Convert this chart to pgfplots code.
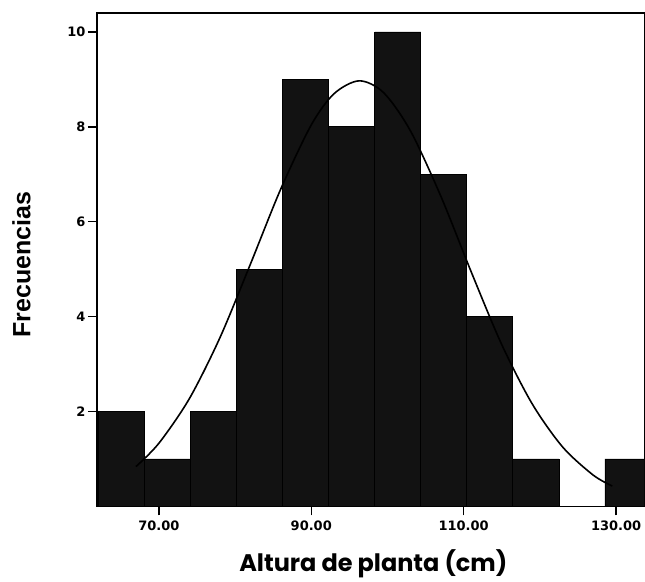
\documentclass[border=0pt]{standalone}
\usepackage{fontspec}
\usepackage{pgfplots}
\pgfplotsset{compat=1.18}
\newfontfamily\tickfont{DejaVu Sans}
\newfontfamily\ylabfont{Liberation Sans}
\newfontfamily\xlabfont{Poppins}
\definecolor{BarFill}{RGB}{18,18,18}

\begin{document}
\begin{tikzpicture}
\begin{axis}[
    scale only axis,
    width=548pt, height=494pt,
    xmin=61.87, xmax=133.7,
    ymin=0, ymax=10.4,
    axis line style={line width=1.5pt},
    xtick={70,90,110,130},
    xticklabels={70.00,90.00,110.00,130.00},
    ytick={2,4,6,8,10},
    xtick pos=bottom, ytick pos=left,
    tick align=outside,
    major tick length=9pt,
    tick style={line width=1.5pt, black},
    /pgf/number format/assume math mode=true,
    ticklabel style={font=\tickfont\bfseries\fontsize{13}{15}\selectfont},
    xticklabel style={yshift=-2pt},
    yticklabel style={xshift=1pt},
    xlabel={Altura de planta (cm)},
    xlabel style={at={(axis description cs:0.505,0)}, anchor=base, yshift=-65pt,
        font=\xlabfont\bfseries\fontsize{24}{27}\selectfont},
    ylabel={Frecuencias},
    ylabel style={at={(axis description cs:0,0.49)}, anchor=north, inner sep=0pt, yshift=85pt,
        font=\ylabfont\bfseries\fontsize{25}{28}\selectfont},
    clip=true,
]
% histogram bins (left edges, last value = right end)
\addplot[ybar interval, fill=BarFill, draw=black, line width=0.8pt] coordinates {
    (62.10,2) (68.14,1) (74.18,2) (80.22,5) (86.26,9) (92.30,8)
    (98.34,10) (104.38,7) (110.42,4) (116.46,1) (122.50,0) (128.54,1) (134.58,1)
};
% fitted normal curve
\addplot[smooth, black, line width=1.6pt] coordinates {
    (67,0.84) (70,1.33) (74,2.27) (78,3.55) (82,5.10) (86,6.69) (90,8.04)
    (93,8.70) (96.3,8.97) (99.5,8.72) (103,7.92) (107,6.54) (111,4.94)
    (115,3.41) (119,2.16) (123,1.25) (127,0.66) (129.5,0.43)
};
\end{axis}
\path ([xshift=-97pt,yshift=-74pt]current axis.south west) rectangle ++(645pt,581pt);
\end{tikzpicture}
\end{document}
